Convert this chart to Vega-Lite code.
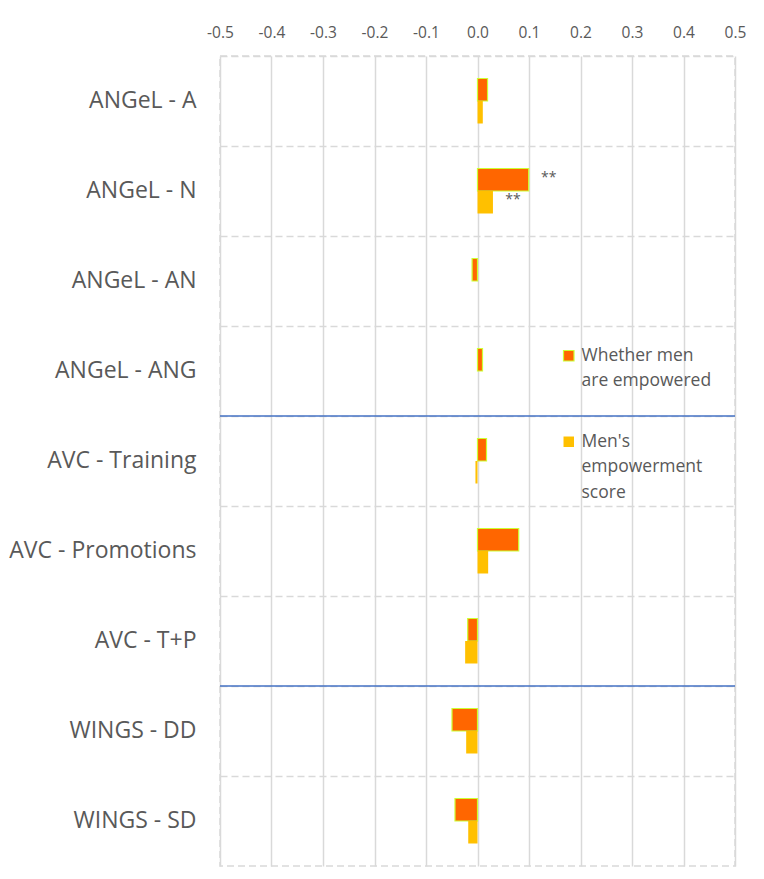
{
  "$schema": "https://vega.github.io/schema/vega-lite/v6.json",
  "autosize": "none",
  "padding": {"left": 220, "top": 56, "right": 29, "bottom": 13},
  "width": 515,
  "height": 810,
  "background": "white",
  "config": {
    "font": "Open Sans",
    "view": {"stroke": "#d9d9d9", "strokeDash": [7, 4], "strokeWidth": 1.5},
    "style": {"guide-label": {"lineHeight": 25.5}}
  },
  "datasets": {
    "bars": [
      {"cat": "ANGeL - A", "series": "Whether men are empowered", "value": 0.0195, "sig": ""},
      {"cat": "ANGeL - A", "series": "Men's empowerment score", "value": 0.0103, "sig": ""},
      {"cat": "ANGeL - N", "series": "Whether men are empowered", "value": 0.0994, "sig": "**"},
      {"cat": "ANGeL - N", "series": "Men's empowerment score", "value": 0.030, "sig": "**"},
      {"cat": "ANGeL - AN", "series": "Whether men are empowered", "value": -0.0105, "sig": ""},
      {"cat": "ANGeL - AN", "series": "Men's empowerment score", "value": 0.0, "sig": ""},
      {"cat": "ANGeL - ANG", "series": "Whether men are empowered", "value": 0.0097, "sig": ""},
      {"cat": "ANGeL - ANG", "series": "Men's empowerment score", "value": 0.0, "sig": ""},
      {"cat": "AVC - Training", "series": "Whether men are empowered", "value": 0.0175, "sig": ""},
      {"cat": "AVC - Training", "series": "Men's empowerment score", "value": -0.004, "sig": ""},
      {"cat": "AVC - Promotions", "series": "Whether men are empowered", "value": 0.080, "sig": ""},
      {"cat": "AVC - Promotions", "series": "Men's empowerment score", "value": 0.0207, "sig": ""},
      {"cat": "AVC - T+P", "series": "Whether men are empowered", "value": -0.019, "sig": ""},
      {"cat": "AVC - T+P", "series": "Men's empowerment score", "value": -0.024, "sig": ""},
      {"cat": "WINGS - DD", "series": "Whether men are empowered", "value": -0.0495, "sig": ""},
      {"cat": "WINGS - DD", "series": "Men's empowerment score", "value": -0.022, "sig": ""},
      {"cat": "WINGS - SD", "series": "Whether men are empowered", "value": -0.0437, "sig": ""},
      {"cat": "WINGS - SD", "series": "Men's empowerment score", "value": -0.018, "sig": ""}
    ],
    "seps": [
      {"cat": "AVC - Training"},
      {"cat": "WINGS - DD"}
    ]
  },
  "encoding": {
    "y": {
      "field": "cat",
      "type": "nominal",
      "scale": {
        "domain": ["ANGeL - A", "ANGeL - N", "ANGeL - AN", "ANGeL - ANG", "AVC - Training", "AVC - Promotions", "AVC - T+P", "WINGS - DD", "WINGS - SD"],
        "paddingInner": 0,
        "paddingOuter": 0
      },
      "axis": {
        "title": null,
        "orient": "left",
        "domain": false,
        "ticks": false,
        "labelFontSize": 23,
        "labelColor": "#595959",
        "labelPadding": 24,
        "labelLimit": 300,
        "grid": true,
        "bandPosition": 0,
        "gridColor": "#d9d9d9",
        "gridDash": [7, 4],
        "gridWidth": 1.5
      }
    }
  },
  "layer": [
    {
      "data": {"name": "bars"},
      "mark": {"type": "bar", "strokeWidth": 1.2},
      "encoding": {
        "x": {
          "field": "value",
          "type": "quantitative",
          "scale": {"domain": [-0.5, 0.5], "nice": false, "zero": false},
          "axis": {
            "title": null,
            "orient": "top",
            "values": [-0.5, -0.4, -0.3, -0.2, -0.1, 0, 0.1, 0.2, 0.3, 0.4, 0.5],
            "labelExpr": "replace(format(datum.value, '.1f'), '\u2212', '-')",
            "labelFlush": false,
            "labelOverlap": false,
            "domain": false,
            "ticks": false,
            "labelFontSize": 15.5,
            "labelColor": "#595959",
            "labelPadding": 16,
            "grid": true,
            "gridColor": "#d9d9d9",
            "gridWidth": 1.5
          }
        },
        "x2": {"datum": 0},
        "yOffset": {
          "field": "series",
          "type": "nominal",
          "scale": {"domain": ["Whether men are empowered", "Men's empowerment score"], "paddingInner": 0, "paddingOuter": 1.05}
        },
        "color": {
          "field": "series",
          "type": "nominal",
          "scale": {"domain": ["Whether men are empowered", "Men's empowerment score"], "range": ["#FF6600", "#FFC000"]},
          "legend": {
            "title": null,
            "orient": "none",
            "legendX": 340,
            "legendY": 291,
            "padding": 0,
            "symbolType": "square",
            "symbolSize": 110,
            "symbolStrokeWidth": 1.2,
            "labelFontSize": 17.5,
            "labelColor": "#595959",
            "labelOffset": 4,
            "labelLimit": 300,
            "rowPadding": 42,
            "labelExpr": "datum.label == 'Whether men are empowered' ? ['Whether men', 'are empowered'] : ['Men\\'s', 'empowerment', 'score']"
          }
        },
        "stroke": {
          "field": "series",
          "type": "nominal",
          "scale": {"domain": ["Whether men are empowered", "Men's empowerment score"], "range": ["#CCFF33", "transparent"]},
          "legend": null
        }
      }
    },
    {
      "data": {"name": "bars"},
      "transform": [{"filter": "datum.sig != ''"}],
      "mark": {"type": "text", "dx": 20, "dy": -2, "align": "center", "baseline": "middle", "fontSize": 14, "color": "#595959"},
      "encoding": {
        "x": {"field": "value", "type": "quantitative"},
        "yOffset": {"field": "series", "type": "nominal"},
        "text": {"field": "sig"}
      }
    },
    {
      "data": {"name": "seps"},
      "mark": {"type": "rule", "color": "#4472C4", "strokeWidth": 1.3},
      "encoding": {
        "y": {"field": "cat", "type": "nominal", "bandPosition": 0}
      }
    }
  ]
}
